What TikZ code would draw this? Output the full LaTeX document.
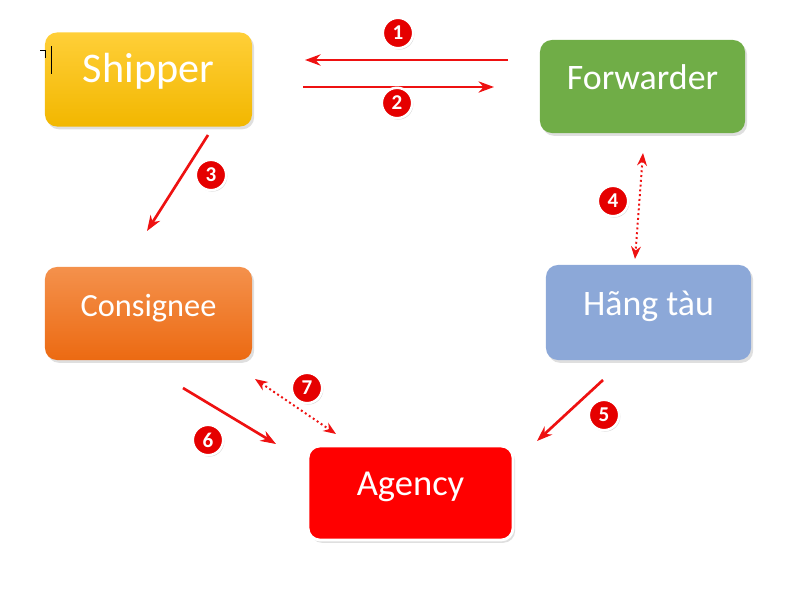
\documentclass[tikz,border=0pt]{standalone}
\usepackage{fontspec}
\setmainfont{Carlito}
\usepackage{tikz}
\usetikzlibrary{positioning,arrows.meta,shadows,calc}
\definecolor{shipTop}{HTML}{FFCF38}
\definecolor{shipBot}{HTML}{F2B700}
\definecolor{fwdGreen}{HTML}{70AD47}
\definecolor{conTop}{HTML}{F4914C}
\definecolor{conBot}{HTML}{EC6A12}
\definecolor{carrBlue}{HTML}{8CA8D8}
\definecolor{arrRed}{HTML}{EE1111}

\tikzset{
  box/.style={rounded corners=8.5pt, minimum width=5.125cm, minimum height=2.35cm, text=white,
    text height=0.75em, text depth=0.33em,
    drop shadow={shadow xshift=1.5pt, shadow yshift=-2pt, opacity=0.25}},
  badge/.style={circle, fill=red!90!black, draw=white, line width=1.8pt, minimum size=0.76cm,
    inner sep=0pt, text=white, font=\bfseries\fontsize{15}{16}\selectfont,
    drop shadow={shadow xshift=0.8pt, shadow yshift=-1pt, opacity=0.35}},
  flow/.style={-{Stealth[length=11pt,width=8pt]}, arrRed, line width=1.9pt},
  flowdot/.style={{Stealth[length=9pt,width=7pt]}-{Stealth[length=9pt,width=7pt]}, arrRed,
    line width=1.4pt, dotted},
}

\begin{document}
\begin{tikzpicture}[x=0.025cm, y=-0.025cm, >=Stealth]
    \useasboundingbox (0,0) rectangle (800,600);

    % Boxes
    \node[box, top color=shipTop, bottom color=shipBot, minimum width=5.175cm,
      font=\fontsize{30}{32}\selectfont] (shipper) at (148.5, 79.5) {Shipper};
    \node[box, fill=fwdGreen, minimum height=2.325cm,
      font=\fontsize{25.5}{28}\selectfont] (forwarder) at (642.5, 86.5) {Forwarder};
    \node[box, top color=conTop, bottom color=conBot, minimum width=5.175cm, minimum height=2.325cm,
      font=\fontsize{23}{26}\selectfont] (consignee) at (148.5, 313.5) {Consignee};
    \node[box, fill=carrBlue, minimum height=2.375cm,
      font=\fontsize{25.5}{28}\selectfont] (carrier) at (648.5, 312.5) {Hãng tàu};
    \node[box, fill=red, draw=white, line width=2pt,
      font=\fontsize{26}{28}\selectfont] (agency) at (410.5, 493) {Agency};

    % Cursor mark
    \draw[black, line width=0.5pt] (51,46) -- (51,74);
    \draw[black, line width=0.6pt] (40,50) -- (45,50) -- (45,58);

    % Arrow ends
    \coordinate (a1s) at (508, 60);  \coordinate (a1e) at (305, 60);
    \coordinate (a2s) at (303, 87);  \coordinate (a2e) at (494, 87);
    \coordinate (a3s) at (208, 135); \coordinate (a3e) at (147, 231);
    \coordinate (a4s) at (643, 153); \coordinate (a4e) at (635, 259);
    \coordinate (a5s) at (603, 380); \coordinate (a5e) at (537, 441);
    \coordinate (a6s) at (183, 388); \coordinate (a6e) at (276, 444);
    \coordinate (a7s) at (255, 379); \coordinate (a7e) at (336, 434);

    % Arrows
    \draw[flow] (a1s) -- (a1e);
    \draw[flow] (a2s) -- (a2e);
    \draw[flow] (a3s) -- (a3e);
    \draw[flowdot] (a4s) -- (a4e);
    \draw[flow] (a5s) -- (a5e);
    \draw[flow] (a6s) -- (a6e);
    \draw[flowdot] (a7s) -- (a7e);

    % Step numbers
    \node[badge] (n1) at (398, 33) {1};
    \node[badge] (n2) at (397, 103) {2};
    \node[badge] (n3) at (211, 175) {3};
    \node[badge] (n4) at (613, 201) {4};
    \node[badge] (n5) at (604, 415) {5};
    \node[badge] (n6) at (208, 440) {6};
    \node[badge] (n7) at (307, 388) {7};
\end{tikzpicture}
\end{document}
